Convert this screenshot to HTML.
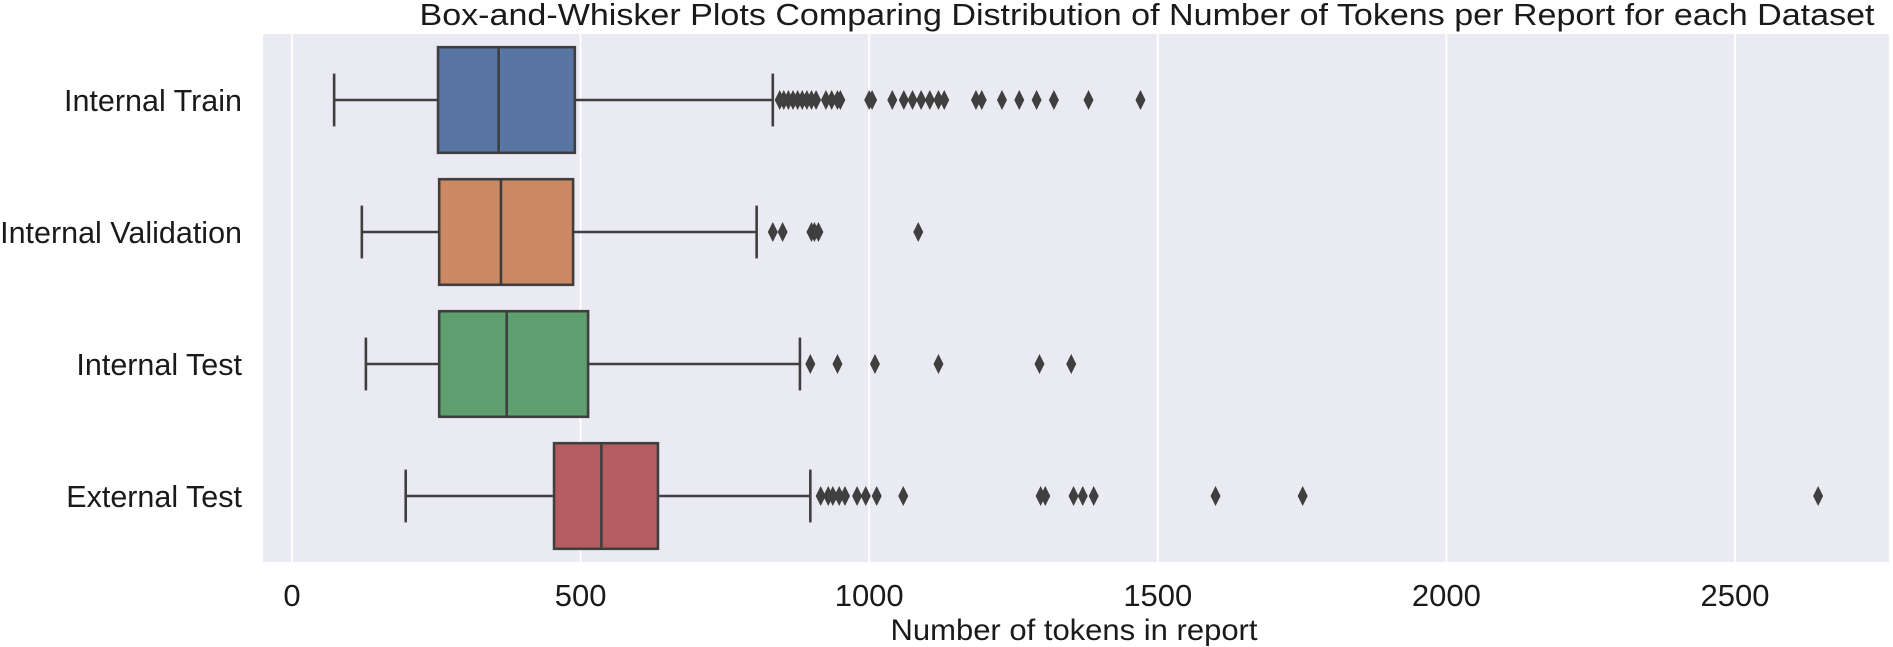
<!DOCTYPE html>
<html><head><meta charset="utf-8"><style>
body{margin:0;background:#fff;}
svg{display:block;font-family:"Liberation Sans",sans-serif;}
</style></head><body>
<svg id="chart" width="1893" height="647" viewBox="0 0 1893 647">
<text x="1147" y="25" text-anchor="middle" font-size="31" fill="#1a1a1a" textLength="1455" lengthAdjust="spacingAndGlyphs">Box-and-Whisker Plots Comparing Distribution of Number of Tokens per Report for each Dataset</text>
<rect x="263" y="34" width="1626" height="528" fill="#eaeaf2"/>
<g id="grid"></g><g id="boxes"></g><g id="ticks"></g>
<text x="1074" y="640" text-anchor="middle" font-size="30" fill="#1a1a1a" textLength="367" lengthAdjust="spacingAndGlyphs">Number of tokens in report</text>
</svg>
<script>
const categories = ["Internal Train","Internal Validation","Internal Test","External Test"];
const colors = ["#5975a4","#cc8963","#5f9e6e","#b55d60"];
const lowWhisker = [73,121,128,197];
const q1 = [253,255,255,454];
const median = [358,362,372,536];
const q3 = [490,487,513,634];
const highWhisker = [833,805,880,898];
const outliers = [
 [845,852,860,868,876,884,892,900,908,925,935,945,950,1000,1005,1040,1060,1075,1090,1105,1120,1130,1185,1195,1230,1260,1290,1320,1380,1470],
 [833,850,900,905,912,1085],
 [898,945,1010,1120,1295,1350],
 [916,929,937,948,958,979,994,1013,1059,1297,1305,1354,1370,1389,1600,1751,2644]
];
const xTicks = [0,500,1000,1500,2000,2500];

const NS="http://www.w3.org/2000/svg";
const plotTop=34, rowH=132, x0=292, pxPer=288.6/500;
function xs(v){return x0+v*pxPer;}
function ys(i){return plotTop+rowH/2+i*rowH;}
function mk(tag,attrs,parent){const e=document.createElementNS(NS,tag);for(const k in attrs)e.setAttribute(k,attrs[k]);parent.appendChild(e);return e;}
const grid=document.getElementById('grid'),boxes=document.getElementById('boxes'),ticks=document.getElementById('ticks');
xTicks.forEach(t=>{
 const l=mk('line',{x1:xs(t),x2:xs(t),y1:34,y2:562,stroke:'#fff','stroke-width':1.8},grid);
 
 
 const tx=mk('text',{x:xs(t),y:606,'text-anchor':'middle','font-size':31,fill:'#1a1a1a'},ticks);
 tx.textContent=t;
 
 
});
const LC='#3f3f3f', bh=rowH*0.8, cap=rowH*0.4;
categories.forEach((c,i)=>{
 const y=ys(i);
 const g=mk('g',{},boxes);
 
 
 mk('line',{x1:xs(lowWhisker[i]),x2:xs(q1[i]),y1:y,y2:y,stroke:LC,'stroke-width':2.6},g);
 mk('line',{x1:xs(q3[i]),x2:xs(highWhisker[i]),y1:y,y2:y,stroke:LC,'stroke-width':2.6},g);
 mk('line',{x1:xs(lowWhisker[i]),x2:xs(lowWhisker[i]),y1:y-cap/2,y2:y+cap/2,stroke:LC,'stroke-width':2.6},g);
 mk('line',{x1:xs(highWhisker[i]),x2:xs(highWhisker[i]),y1:y-cap/2,y2:y+cap/2,stroke:LC,'stroke-width':2.6},g);
 mk('rect',{x:xs(q1[i]),y:y-bh/2,width:xs(q3[i])-xs(q1[i]),height:bh,fill:colors[i],stroke:LC,'stroke-width':2.6},g);
 mk('line',{x1:xs(median[i]),x2:xs(median[i]),y1:y-bh/2,y2:y+bh/2,stroke:LC,'stroke-width':2.6},g);
 outliers[i].forEach(v=>{
  const x=xs(v);
  const p=mk('polygon',{points:`${x},${y-10} ${x+5},${y} ${x},${y+10} ${x-5},${y}`,fill:LC},g);
  
  
 });
 const lab=mk('text',{x:242,y:y+11,'text-anchor':'end','font-size':30.5,fill:'#1a1a1a'},ticks);
 lab.textContent=c;
 
 
});
</script>
</body></html>
